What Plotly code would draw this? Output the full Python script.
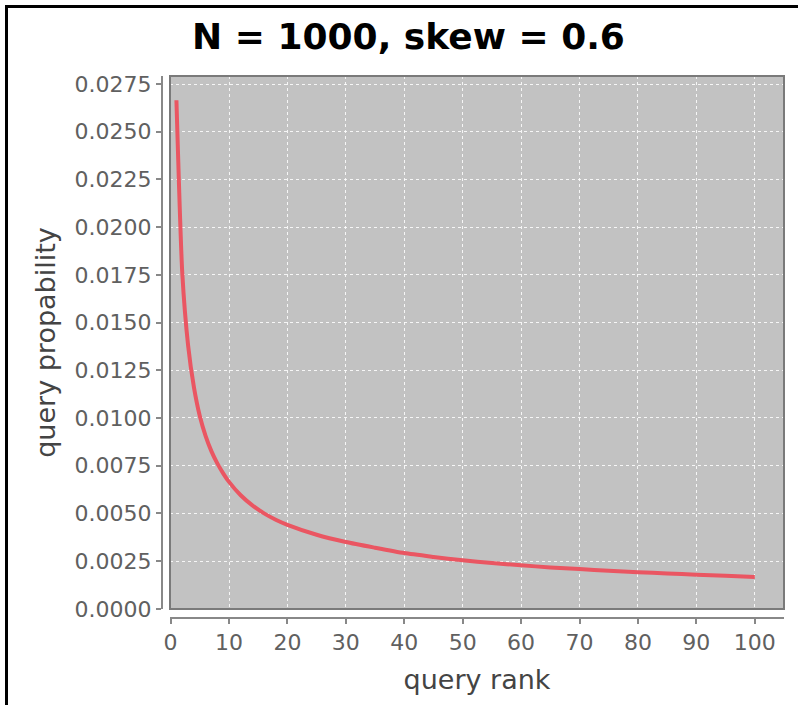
import plotly.graph_objects as go

# ---- data ----
rank = [1, 2, 3, 4, 5, 6, 7, 8, 9, 10, 12, 14, 16, 18, 20, 25, 30, 35, 40, 45,
        50, 55, 60, 65, 70, 75, 80, 85, 90, 95, 100]
prob = [0.02665, 0.01760, 0.01380, 0.01160, 0.01010, 0.00905, 0.00825, 0.00762,
        0.00710, 0.00665, 0.00595, 0.00542, 0.00500, 0.00467, 0.00440, 0.00388,
        0.00350, 0.00320, 0.00292, 0.00272, 0.00254, 0.00240, 0.00228, 0.00217,
        0.00208, 0.00200, 0.00192, 0.00185, 0.00179, 0.00173, 0.00167]

title_text = "N = 1000, skew = 0.6"
x_title = "query rank"
y_title = "query propability"

# ---- layout geometry (pixels) ----
W, H = 798, 705
ML, MR, MT, MB = 162, 14, 76, 87
PW = W - ML - MR
PH = H - MT - MB
x_dom0 = 8 / PW
y_dom0 = 9 / PH

def px_x(p):
    return (p - ML) / PW

def px_y(p):
    return (H - MB - p) / PH

fig = go.Figure()
fig.add_trace(go.Scatter(
    x=rank, y=prob, mode="lines",
    line=dict(color="#ea5662", width=4, shape="spline", smoothing=0.6),
    showlegend=False, hoverinfo="x+y",
))

tick_font = dict(family="DejaVu Sans", size=22, color="#606060")
title_font = dict(family="DejaVu Sans", size=27, color="#444444")
grid_col = "rgba(255,255,255,0.85)"

fig.update_layout(
    width=W, height=H,
    margin=dict(l=ML, r=MR, t=MT, b=MB, autoexpand=False),
    paper_bgcolor="white",
    plot_bgcolor="#c2c2c2",
    title=dict(text=f"<b>{title_text}</b>", xref="container", yref="container",
               x=408.5 / W, xanchor="center", y=1 - 36 / H, yanchor="middle",
               font=dict(family="DejaVu Sans", size=36, color="black")),
    xaxis=dict(domain=[x_dom0, 1], anchor="free", position=0,
               range=[-0.1, 105], tick0=0, dtick=10,
               showline=True, linecolor="#888888", linewidth=2,
               ticks="outside", ticklen=5, tickwidth=2, tickcolor="#888888",
               tickfont=tick_font,
               showgrid=True, gridcolor=grid_col, griddash="3px,3px", gridwidth=1,
               zeroline=False, automargin=False,
               title=dict(text=x_title, font=title_font, standoff=15)),
    yaxis=dict(domain=[y_dom0, 1], anchor="free", position=0,
               range=[-0.00001, 0.02792], tick0=0, dtick=0.0025, tickformat=".4f",
               showline=True, linecolor="#888888", linewidth=2,
               ticks="outside", ticklen=5, tickwidth=2, tickcolor="#888888",
               tickfont=tick_font,
               showgrid=True, gridcolor=grid_col, griddash="3px,3px", gridwidth=1,
               zeroline=False, automargin=False,
               title=dict(text=y_title, font=title_font, standoff=10)),
    shapes=[
        # plot frame
        dict(type="rect", xref="paper", yref="paper", x0=x_dom0, x1=1, y0=y_dom0, y1=1,
             line=dict(color="#7a7a7a", width=2), layer="above"),
        # outer black border (left and top)
        dict(type="line", xref="paper", yref="paper",
             x0=px_x(6.5), x1=px_x(6.5), y0=px_y(H + 2), y1=px_y(5.5),
             line=dict(color="black", width=3)),
        dict(type="line", xref="paper", yref="paper",
             x0=px_x(5), x1=px_x(W + 2), y0=px_y(6.5), y1=px_y(6.5),
             line=dict(color="black", width=3)),
    ],
)

fig.write_html("out.html")
